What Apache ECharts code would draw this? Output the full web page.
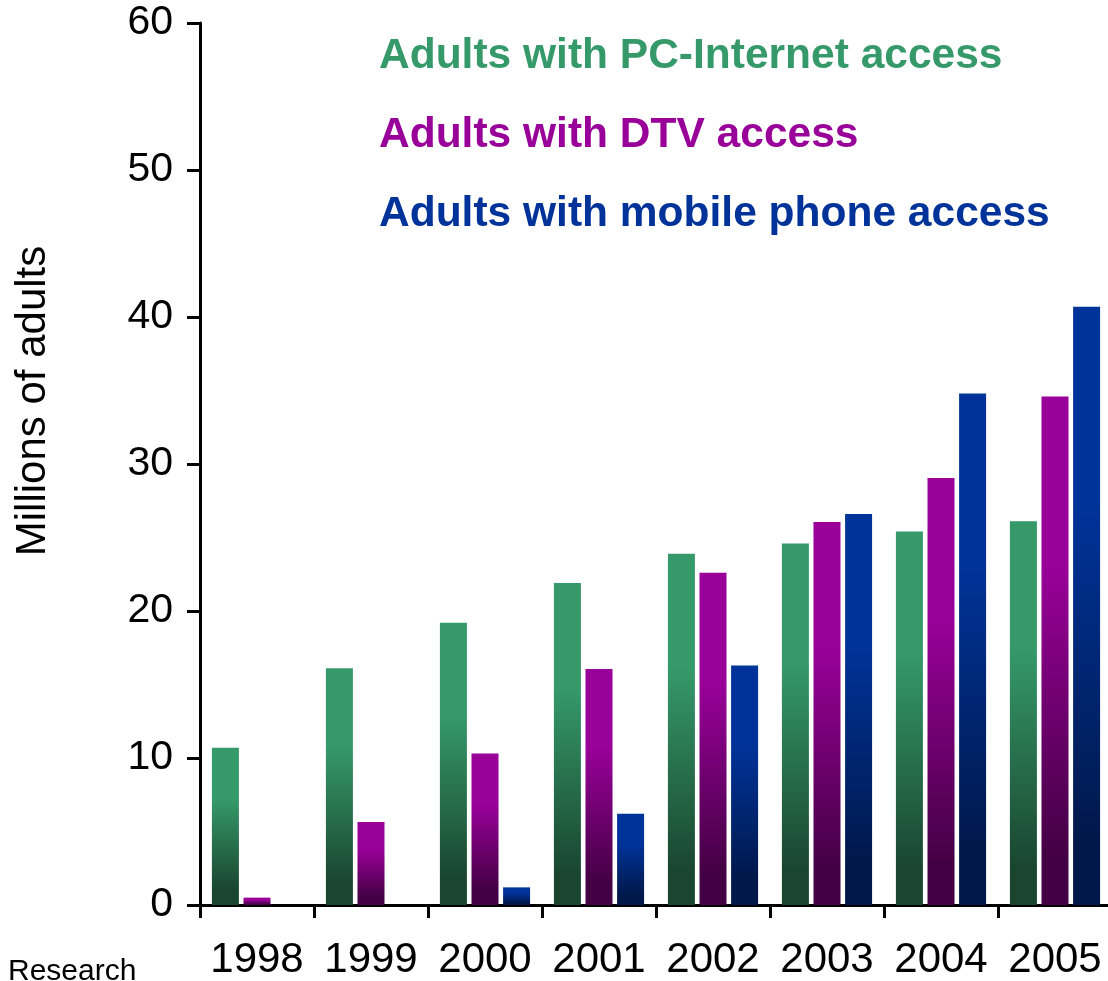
<!DOCTYPE html>
<html>
<head>
<meta charset="utf-8">
<script src="https://cdn.jsdelivr.net/npm/echarts@6/dist/echarts.min.js"></script>
<style>
html,body{margin:0;padding:0;background:#fff;}
#chart{width:1108px;height:981px;}
</style>
</head>
<body>
<div id="chart"></div>
<script>
var categories = ['1998','1999','2000','2001','2002','2003','2004','2005'];
var seriesNames = ['Adults with PC-Internet access','Adults with DTV access','Adults with mobile phone access'];
var pcInternet = [10.7, 16.1, 19.2, 21.9, 23.9, 24.6, 25.4, 26.1];
var dtv = [0.5, 5.65, 10.3, 16.05, 22.6, 26.05, 29.05, 34.6];
var mobile = [0, 0, 1.2, 6.2, 16.3, 26.6, 34.8, 40.7];
var yTicks = [0, 10, 20, 30, 40, 50, 60];
var yAxisTitle = 'Millions of adults';
var footnote = 'Research';

var FONT = '"Liberation Sans", Arial, sans-serif';
var topColors = ['#35996A', '#990099', '#003399'];
var bottomColors = ['#1A462F', '#440044', '#00184A'];

function grad(i) {
  return new echarts.graphic.LinearGradient(0, 0, 0, 1, [
    {offset: 0, color: topColors[i]},
    {offset: 0.33, color: topColors[i]},
    {offset: 0.9, color: bottomColors[i]},
    {offset: 1, color: bottomColors[i]}
  ]);
}

var chart = echarts.init(document.getElementById('chart'), null, {renderer: 'canvas'});
var dataSets = [pcInternet, dtv, mobile];

chart.setOption({
  animation: false,
  backgroundColor: '#ffffff',
  textStyle: {fontFamily: FONT},
  grid: {left: 200, top: 23, width: 912, bottom: 76, containLabel: false, outerBoundsMode: 'none'},
  legend: {
    orient: 'vertical',
    left: 374,
    top: 29,
    icon: 'none',
    itemWidth: 0,
    itemHeight: 10,
    itemGap: 35,
    selectedMode: false,
    textStyle: {fontSize: 42.5, fontWeight: 'bold', fontFamily: FONT, lineHeight: 44, padding: [0,0,0,-5]},
    data: seriesNames.map(function (n, i) {
      return {name: n, textStyle: {color: topColors[i]}};
    })
  },
  xAxis: {
    type: 'category',
    data: categories,
    axisLine: {lineStyle: {color: '#000', width: 3}},
    axisTick: {show: true, length: 13, lineStyle: {color: '#000', width: 3}, alignWithLabel: false},
    axisLabel: {color: '#000', fontSize: 42, fontFamily: FONT, margin: 34, interval: 0},
    splitLine: {show: false}
  },
  yAxis: {
    type: 'value',
    min: yTicks[0],
    max: yTicks[yTicks.length - 1],
    interval: 10,
    name: yAxisTitle,
    nameLocation: 'middle',
    nameRotate: 90,
    nameGap: 146,
    nameTextStyle: {color: '#000', fontSize: 42, fontFamily: FONT, padding: [0, 0, 0, 126]},
    axisLine: {show: true, lineStyle: {color: '#000', width: 3}},
    axisTick: {show: true, length: 13, lineStyle: {color: '#000', width: 3}},
    axisLabel: {color: '#000', fontSize: 41, fontFamily: FONT, margin: 27},
    splitLine: {show: false}
  },
  graphic: [{
    type: 'text',
    left: 8,
    top: 957,
    style: {text: footnote, fontSize: 30, fontFamily: FONT, fill: '#000'}
  }],
  series: dataSets.map(function (d, i) {
    return {
      name: seriesNames[i],
      type: 'bar',
      data: d,
      barWidth: 27,
      barGap: '17%',
      itemStyle: {color: grad(i)}
    };
  })
});
</script>
</body>
</html>
